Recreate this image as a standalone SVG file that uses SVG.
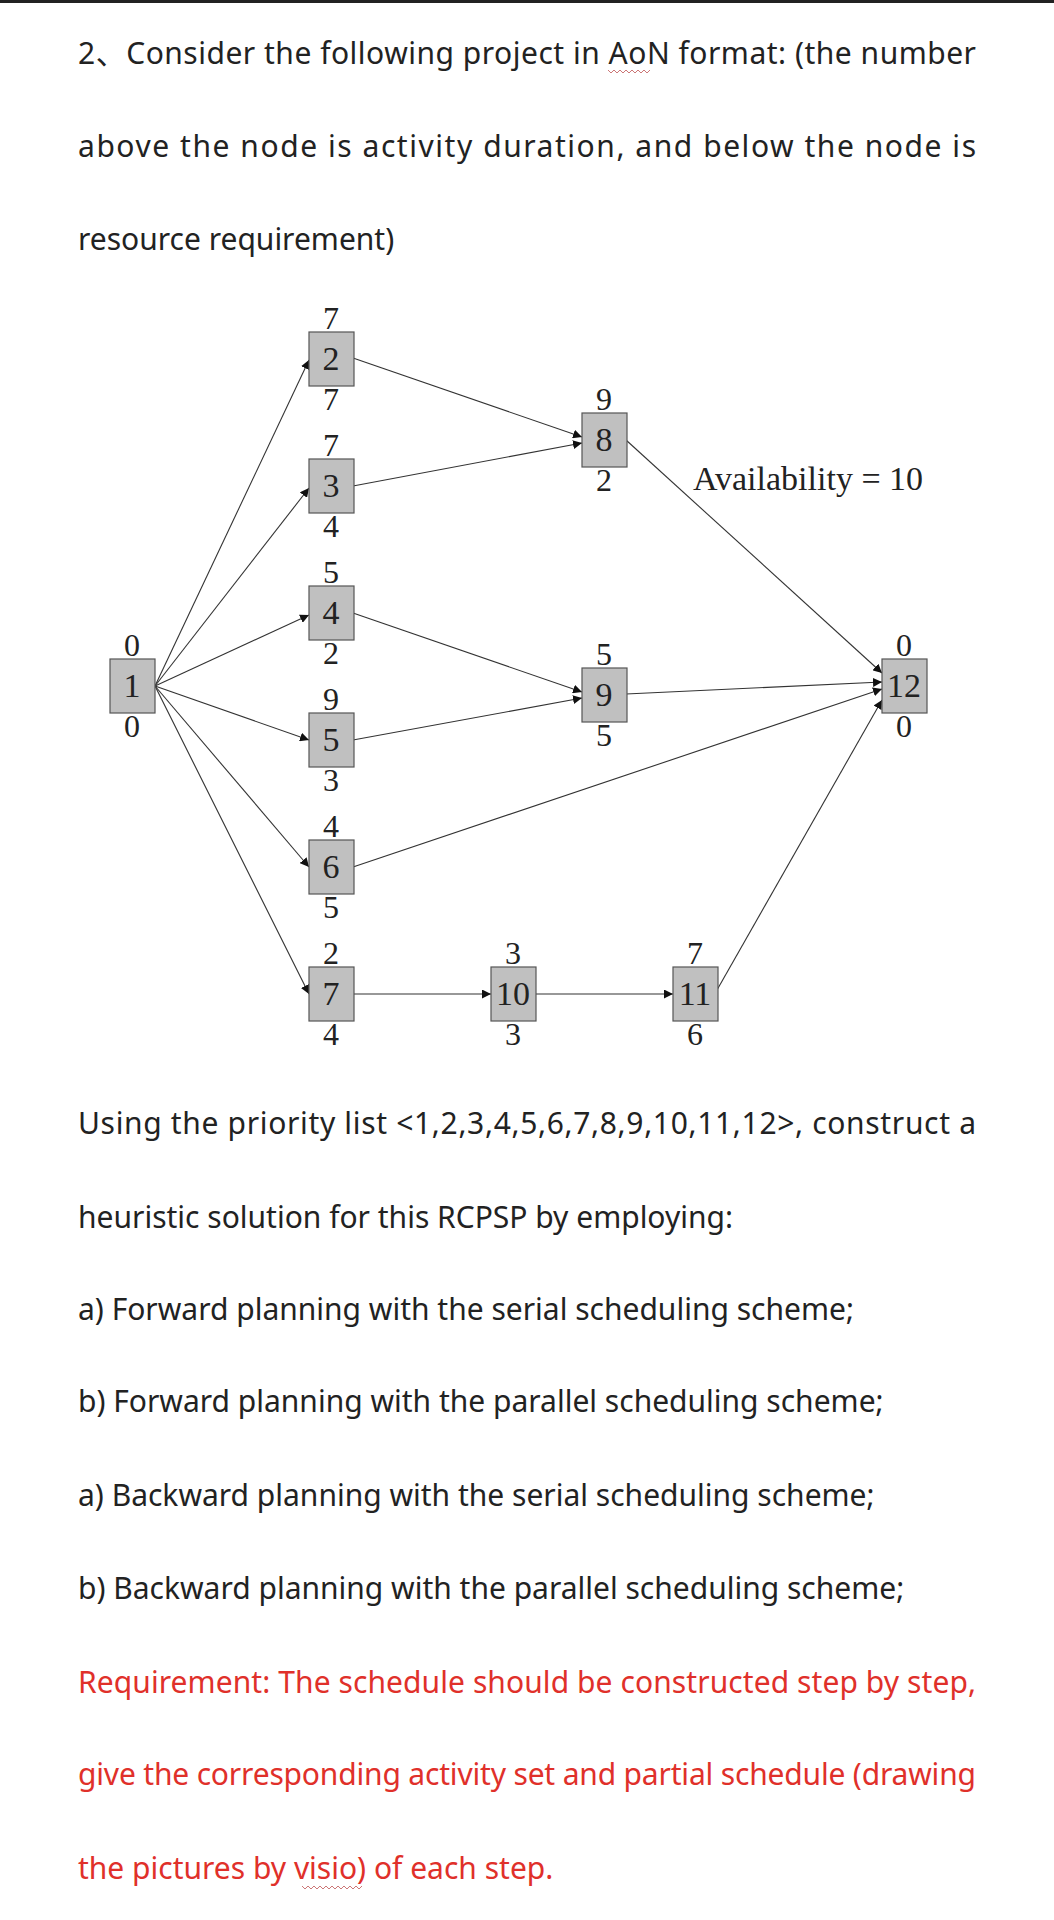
<svg xmlns="http://www.w3.org/2000/svg" width="1054" height="1920" viewBox="0 0 1054 1920">
<defs>
<style>
.t{font-family:"Noto Sans","Noto Sans CJK SC",sans-serif;font-size:30px;fill:#222}
.r{fill:#e0302a}
.n{font-family:"Liberation Serif",serif;font-size:32px;fill:#222;text-anchor:middle}
.b{font-family:"Liberation Serif",serif;font-size:34px;fill:#222;text-anchor:middle}
.box{fill:#c0c0c0;stroke:#555;stroke-width:1.2}
.e{stroke:#333;stroke-width:1.1;fill:none;marker-end:url(#a)}
.w{fill:none;stroke:#c77;stroke-width:1}
</style>
<marker id="a" viewBox="0 0 10 10" refX="10" refY="5" markerWidth="9" markerHeight="9" orient="auto" markerUnits="userSpaceOnUse"><path d="M0,0L10,5L0,10z" fill="#111"/></marker>
</defs>
<rect width="1054" height="1920" fill="#fff"/>
<rect width="1054" height="3" fill="#222"/>
<text class="t" x="78" y="64" textLength="898" lengthAdjust="spacing">2、Consider the following project in AoN format: (the number</text>
<path class="w" d="M608,70 l3,3 l3,-3 l3,3 l3,-3 l3,3 l3,-3 l3,3 l3,-3 l3,3 l3,-3 l3,3 l3,-3 l3,3 l3,-3"/>
<text class="t" x="78" y="157" textLength="898" lengthAdjust="spacing">above the node is activity duration, and below the node is</text>
<text class="t" x="78" y="250">resource requirement)</text>

<g id="edges">
<line class="e" x1="155" y1="686" x2="309" y2="360"/>
<line class="e" x1="155" y1="686" x2="309" y2="488"/>
<line class="e" x1="155" y1="686" x2="309" y2="615"/>
<line class="e" x1="155" y1="686" x2="309" y2="740"/>
<line class="e" x1="155" y1="686" x2="309" y2="867"/>
<line class="e" x1="155" y1="686" x2="309" y2="994"/>
<line class="e" x1="353" y1="358" x2="582" y2="437"/>
<line class="e" x1="353" y1="486" x2="582" y2="443"/>
<line class="e" x1="353" y1="613" x2="582" y2="692"/>
<line class="e" x1="353" y1="740" x2="582" y2="698"/>
<line class="e" x1="626" y1="440" x2="882" y2="673"/>
<line class="e" x1="626" y1="694" x2="882" y2="682"/>
<line class="e" x1="353" y1="867" x2="882" y2="689"/>
<line class="e" x1="353" y1="994" x2="491" y2="994"/>
<line class="e" x1="535" y1="994" x2="673" y2="994"/>
<line class="e" x1="717" y1="990" x2="882" y2="700"/>
</g>

<g id="n1"><rect class="box" x="110" y="659" width="45" height="54"/><text class="b" x="132" y="697">1</text><text class="n" x="132" y="656">0</text><text class="n" x="132" y="737">0</text></g>
<g id="n2"><rect class="box" x="309" y="332" width="45" height="54"/><text class="b" x="331" y="370">2</text><text class="n" x="331" y="329">7</text><text class="n" x="331" y="410">7</text></g>
<g id="n3"><rect class="box" x="309" y="459" width="45" height="54"/><text class="b" x="331" y="497">3</text><text class="n" x="331" y="456">7</text><text class="n" x="331" y="537">4</text></g>
<g id="n4"><rect class="box" x="309" y="586" width="45" height="54"/><text class="b" x="331" y="624">4</text><text class="n" x="331" y="583">5</text><text class="n" x="331" y="664">2</text></g>
<g id="n5"><rect class="box" x="309" y="713" width="45" height="54"/><text class="b" x="331" y="751">5</text><text class="n" x="331" y="710">9</text><text class="n" x="331" y="791">3</text></g>
<g id="n6"><rect class="box" x="309" y="840" width="45" height="54"/><text class="b" x="331" y="878">6</text><text class="n" x="331" y="837">4</text><text class="n" x="331" y="918">5</text></g>
<g id="n7"><rect class="box" x="309" y="967" width="45" height="54"/><text class="b" x="331" y="1005">7</text><text class="n" x="331" y="964">2</text><text class="n" x="331" y="1045">4</text></g>
<g id="n8"><rect class="box" x="582" y="413" width="45" height="54"/><text class="b" x="604" y="451">8</text><text class="n" x="604" y="410">9</text><text class="n" x="604" y="491">2</text></g>
<g id="n9"><rect class="box" x="582" y="668" width="45" height="54"/><text class="b" x="604" y="706">9</text><text class="n" x="604" y="665">5</text><text class="n" x="604" y="746">5</text></g>
<g id="n10"><rect class="box" x="491" y="967" width="45" height="54"/><text class="b" x="513" y="1005">10</text><text class="n" x="513" y="964">3</text><text class="n" x="513" y="1045">3</text></g>
<g id="n11"><rect class="box" x="673" y="967" width="45" height="54"/><text class="b" x="695" y="1005">11</text><text class="n" x="695" y="964">7</text><text class="n" x="695" y="1045">6</text></g>
<g id="n12"><rect class="box" x="882" y="659" width="45" height="54"/><text class="b" x="904" y="697">12</text><text class="n" x="904" y="656">0</text><text class="n" x="904" y="737">0</text></g>
<text class="n" x="693" y="490" style="text-anchor:start;font-size:34px">Availability = 10</text>

<text class="t" x="78" y="1134" textLength="898" lengthAdjust="spacing">Using the priority list &lt;1,2,3,4,5,6,7,8,9,10,11,12&gt;, construct a</text>
<text class="t" x="78" y="1228">heuristic solution for this RCPSP by employing:</text>
<text class="t" x="78" y="1320">a) Forward planning with the serial scheduling scheme;</text>
<text class="t" x="78" y="1412">b) Forward planning with the parallel scheduling scheme;</text>
<text class="t" x="78" y="1506">a) Backward planning with the serial scheduling scheme;</text>
<text class="t" x="78" y="1599">b) Backward planning with the parallel scheduling scheme;</text>
<text class="t r" x="78" y="1693" textLength="898" lengthAdjust="spacing">Requirement: The schedule should be constructed step by step,</text>
<text class="t r" x="78" y="1785" textLength="898" lengthAdjust="spacing">give the corresponding activity set and partial schedule (drawing</text>
<text class="t r" x="78" y="1879">the pictures by visio) of each step.</text>
<path class="w" d="M302,1886 l3,3 l3,-3 l3,3 l3,-3 l3,3 l3,-3 l3,3 l3,-3 l3,3 l3,-3 l3,3 l3,-3 l3,3 l3,-3 l3,3 l3,-3 l3,3 l3,-3 l3,3 l3,-3"/>
</svg>
